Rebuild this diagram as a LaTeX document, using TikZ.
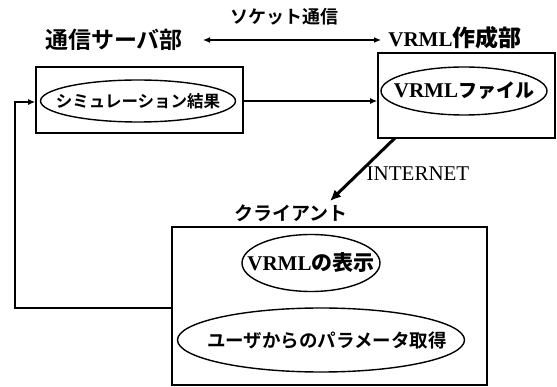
\documentclass[tikz,border=0pt]{standalone}
\usepackage{fontspec}
\setmainfont{Liberation Serif}
\newfontfamily\jp{Noto Sans CJK JP Bold}
\usetikzlibrary{arrows.meta,shapes.geometric}
\begin{document}
\begin{tikzpicture}[x=1pt,y=-1pt,
  box/.style={draw,line width=1.6pt,inner sep=0pt},
  ell/.style={draw,ellipse,line width=1.4pt,inner sep=0pt},
  lbl/.style={inner sep=0pt,font=\jp},
  conn/.style={line width=1.2pt,-{Latex[length=7pt,width=6pt]}}]
\useasboundingbox (0,0) rectangle (557,387);
% boxes
\node[box,minimum width=207pt,minimum height=66pt] (srvbox) at (139.5,100) {};
\node[box,minimum width=177pt,minimum height=85pt] (vrmlbox) at (466.5,95.5) {};
\node[box,minimum width=315pt,minimum height=158pt] (clibox) at (329.5,306) {};
% ellipses
\node[ell,minimum width=195pt,minimum height=42pt] (sim) at (138,101) {};
\node[ell,minimum width=166pt,minimum height=48pt] (file) at (464,91) {};
\node[ell,minimum width=138pt,minimum height=57pt] (disp) at (311,263) {};
\node[ell,minimum width=287pt,minimum height=64pt] (param) at (321,340) {};
% ellipse texts
\node[lbl,font=\jp\fontsize{16.5}{16.5}\selectfont] (simtxt) at (sim.center) {シミュレーション結果};
\node[inner sep=0pt,font=\fontsize{21}{21}\selectfont\bfseries] (filetxt) at (file.center) {VRML{\jp\fontsize{19}{19}\selectfont ファイル}};
\node[inner sep=0pt,font=\fontsize{21}{21}\selectfont\bfseries] (disptxt) at (disp.center) {VRML{\jp\fontsize{21}{21}\selectfont の表示}};
\node[lbl,font=\jp\fontsize{18.5}{18.5}\selectfont,xshift=6pt] (paramtxt) at (param.center) {ユーザからのパラメータ取得};
% labels
\node[lbl,font=\jp\fontsize{23}{23}\selectfont] (srvlbl) at (114,40) {通信サーバ部};
\node[lbl,font=\jp\fontsize{18}{18}\selectfont] (sock) at (284,17) {ソケット通信};
\node[inner sep=0pt,font=\fontsize{21}{21}\selectfont\bfseries] (vrmllbl) at (455,38) {VRML{\jp\fontsize{23}{23}\selectfont 作成部}};
\node[lbl,font=\jp\fontsize{19}{19}\selectfont] (cli) at (291,213) {クライアント};
\node[inner sep=0pt,font=\fontsize{21}{21}\selectfont] (net) at (418,174) {INTERNET};
% connectors
\coordinate (sockL) at (203,40);
\coordinate (sockR) at (381,40);
\draw[line width=1.2pt,{Latex[length=7pt,width=6pt]}-{Latex[length=7pt,width=6pt]}] (sockL) -- (sockR);
\draw[conn] (srvbox.east |- sim) -- (sim -| vrmlbox.west);
\coordinate (netS) at (395,138);
\coordinate (netE) at (330,201);
\draw[line width=3pt,-{Latex[length=11pt,width=10pt]}] (netS) -- (netE);
\coordinate (fbA) at (15,308);
\coordinate (fbB) at (15,102);
\draw[conn] (fbA -| clibox.west) -- (fbA) -- (fbB) -- (fbB -| srvbox.west);
\end{tikzpicture}
\end{document}
